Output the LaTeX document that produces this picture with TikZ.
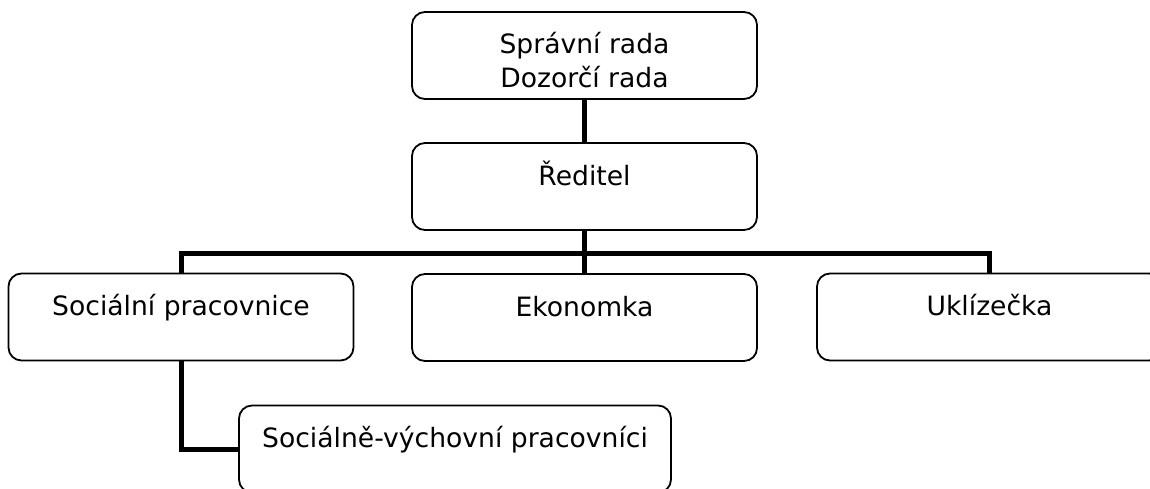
\documentclass[tikz,border=0pt]{standalone}
\usepackage{fontspec}
\setmainfont{DejaVu Sans}
\begin{document}
\begin{tikzpicture}[x=0.5pt,y=0.5pt,
    box/.style={draw, line width=0.9pt, rounded corners=6.5pt, inner sep=0pt,
      minimum width=172.5pt, minimum height=43.5pt,
      text height=21pt, text depth=22.5pt,
      font=\fontsize{13.3}{17}\selectfont},
    link/.style={line width=2.5pt}]
  \useasboundingbox (0,0) rectangle (1150,-488);
  \draw
    (584.5,-55.5) node[box, align=center, text height=37.5pt, text depth=6pt] (board) {Správní rada\\Dozorčí rada}
    (584.5,-186.5) node[box] (director) {Ředitel}
    (181,-317) node[box] (social) {Sociální pracovnice}
    (584.5,-317.5) node[box] (econ) {Ekonomka}
    (989.5,-317) node[box] (cleaner) {Uklízečka}
    (455,-449) node[box, minimum width=216pt] (educators) {Sociálně-výchovní pracovníci};
  \coordinate (bar) at (584.5,-253);
  \begin{scope}[link]
    \draw (board) to (director);
    \draw (director) to (bar);
    \draw (bar) to (econ);
    \draw (social.north) |- (bar) -| (cleaner.north);
    \draw (social.south) |- (educators.west);
  \end{scope}
\end{tikzpicture}
\end{document}
